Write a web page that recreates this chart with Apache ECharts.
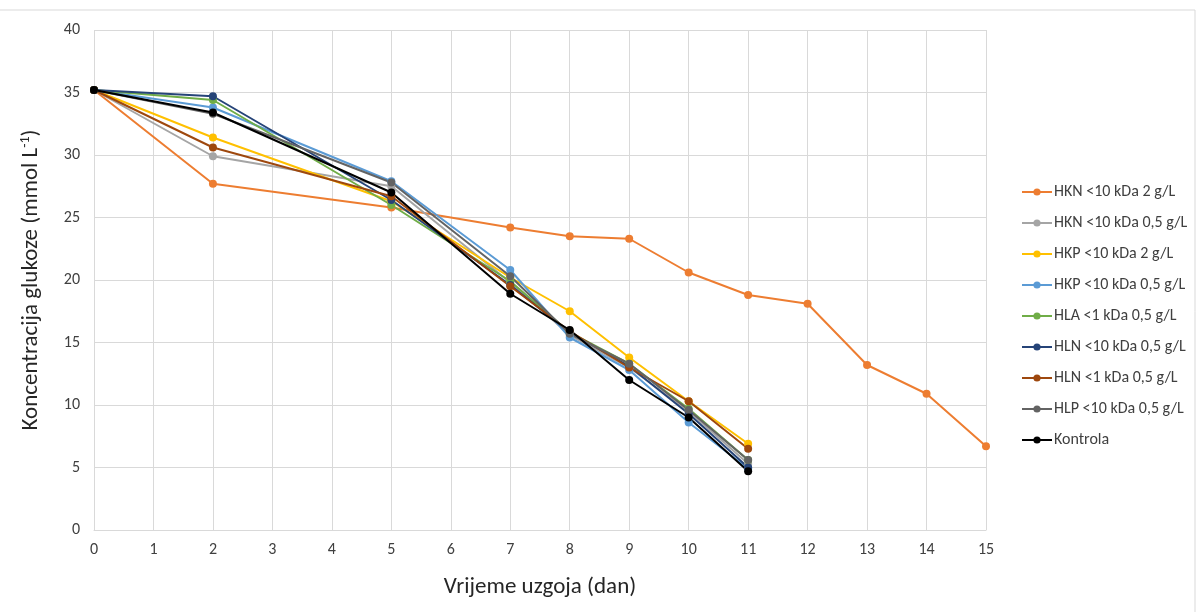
<!DOCTYPE html>
<html>
<head>
<meta charset="utf-8">
<script src="https://cdn.jsdelivr.net/npm/echarts@6/dist/echarts.min.js"></script>
<style>
  html, body { margin: 0; padding: 0; background: #fff; }
  #chart { width: 1200px; height: 612px; }
</style>
</head>
<body>
<div id="chart"></div>
<script>
// days of cultivation
const daysShort = [0, 2, 5, 7, 8, 9, 10, 11];
const daysLong = [0, 2, 5, 7, 8, 9, 10, 11, 12, 13, 14, 15];

// glucose concentration (mmol/L)
const hkn2 = [35.2, 27.7, 25.8, 24.2, 23.5, 23.3, 20.6, 18.8, 18.1, 13.2, 10.9, 6.7];
const hkn05 = [35.2, 29.9, 27.5, 19.8, 15.6, 13.0, 9.5, 5.3];
const hkp2 = [35.2, 31.4, 26.3, 20.2, 17.5, 13.8, 10.3, 6.9];
const hkp05 = [35.2, 33.8, 27.9, 20.8, 15.4, 12.8, 8.6, 4.9];
const hla05 = [35.2, 34.4, 26.0, 19.9, 15.8, 13.3, 9.7, 5.6];
const hln10 = [35.2, 34.7, 26.4, 19.6, 15.8, 13.1, 9.3, 5.0];
const hln1 = [35.2, 30.6, 26.7, 19.5, 15.9, 13.0, 10.3, 6.5];
const hlp10 = [35.2, 33.3, 27.8, 20.3, 15.7, 13.3, 9.6, 5.6];
const kontrola = [35.2, 33.4, 27.0, 18.9, 16.0, 12.0, 9.0, 4.7];

const xTicks = [0, 15, 1];
const yTicks = [0, 40, 5];

const seriesDefs = [
    { name: 'HKN <10 kDa 2 g/L', x: daysLong, y: hkn2, color: '#ED7D31' },
    { name: 'HKN <10 kDa 0,5 g/L', x: daysShort, y: hkn05, color: '#A5A5A5' },
    { name: 'HKP <10 kDa 2 g/L', x: daysShort, y: hkp2, color: '#FFC000' },
    { name: 'HKP <10 kDa 0,5 g/L', x: daysShort, y: hkp05, color: '#5B9BD5' },
    { name: 'HLA <1 kDa 0,5 g/L', x: daysShort, y: hla05, color: '#70AD47' },
    { name: 'HLN <10 kDa 0,5 g/L', x: daysShort, y: hln10, color: '#264478' },
    { name: 'HLN <1 kDa 0,5 g/L', x: daysShort, y: hln1, color: '#9E480E' },
    { name: 'HLP <10 kDa 0,5 g/L', x: daysShort, y: hlp10, color: '#636363' },
    { name: 'Kontrola', x: daysShort, y: kontrola, color: '#000000' }
];

const chart = echarts.init(document.getElementById('chart'));
const font = "Carlito, Lato, 'Open Sans', sans-serif";

chart.setOption({
    animation: false,
    textStyle: { fontFamily: font },
    graphic: [{
        type: 'rect',
        shape: { x: -2, y: 10, width: 1197, height: 610 },
        style: { fill: 'none', stroke: '#d9d9d9', lineWidth: 1 },
        silent: true
    }],
    grid: { left: 94, right: 214, top: 30, bottom: 82 },
    legend: {
        orient: 'vertical',
        left: 1016,
        top: 179,
        itemWidth: 30,
        itemHeight: 9,
        itemGap: 15,
        textStyle: { fontSize: 16, color: '#404040', fontFamily: font, padding: [0, 0, 0, -3] },
        data: seriesDefs.map(s => s.name)
    },
    xAxis: {
        type: 'value',
        min: xTicks[0], max: xTicks[1], interval: xTicks[2],
        name: 'Vrijeme uzgoja (dan)',
        nameLocation: 'middle',
        nameGap: 46,
        nameTextStyle: { fontSize: 23, color: '#262626' },
        axisLine: { show: true, lineStyle: { color: '#d9d9d9' } },
        axisTick: { show: false },
        axisLabel: { fontSize: 16, color: '#404040', margin: 12 },
        splitLine: { show: true, lineStyle: { color: '#d9d9d9', width: 1 } }
    },
    yAxis: {
        type: 'value',
        min: yTicks[0], max: yTicks[1], interval: yTicks[2],
        name: 'Koncentracija glukoze (mmol L{sup|-1})',
        nameLocation: 'middle',
        nameGap: 50,
        nameTextStyle: {
            fontSize: 23, color: '#262626',
            rich: { sup: { fontSize: 14, verticalAlign: 'top', padding: [0, 0, 12, 0], color: '#262626' } }
        },
        axisLine: { show: false },
        axisTick: { show: false },
        axisLabel: { fontSize: 16, color: '#404040', margin: 14 },
        splitLine: { show: true, lineStyle: { color: '#d9d9d9', width: 1 } }
    },
    series: seriesDefs.map(s => ({
        name: s.name,
        type: 'line',
        data: s.x.map((d, i) => [d, s.y[i]]),
        symbol: 'circle',
        symbolSize: 8,
        lineStyle: { width: 2, color: s.color },
        itemStyle: { color: s.color },
        emphasis: { disabled: true }
    }))
});
</script>
</body>
</html>
